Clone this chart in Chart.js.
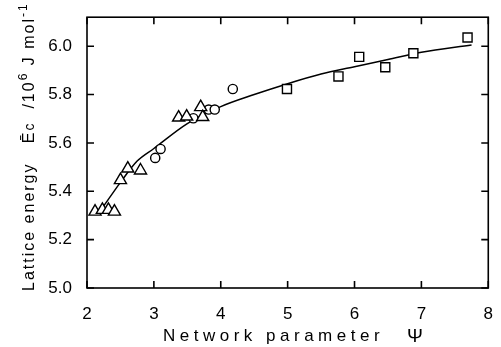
<!DOCTYPE html>
<html>
<head>
<meta charset="utf-8">
<script src="https://cdn.jsdelivr.net/npm/chart.js@4.4.1/dist/chart.umd.min.js"></script>
<style>
html, body { margin: 0; padding: 0; background: #fff; }
#wrap { width: 501px; height: 347px; }
</style>
</head>
<body>
<div id="wrap"><canvas id="myChart"></canvas></div>
<script>
// triangles
var triX = [2.12, 2.23, 2.32, 2.41, 2.50, 2.61, 2.80, 3.37, 3.49, 3.70, 3.73];
var triY = [5.316, 5.323, 5.323, 5.316, 5.446, 5.494, 5.486, 5.705, 5.709, 5.748, 5.707];
// circles
var cirX = [3.02, 3.10, 3.59, 3.82, 3.91, 4.18];
var cirY = [5.538, 5.575, 5.702, 5.738, 5.738, 5.823];
// squares
var sqX = [4.99, 5.76, 6.07, 6.46, 6.88, 7.69];
var sqY = [5.823, 5.875, 5.956, 5.913, 5.971, 6.036];
// fitted curve
var fitX = [2.24, 2.5, 2.75, 3.0, 3.5, 4.0, 4.5, 5.0, 5.5, 6.0, 6.5, 7.0, 7.75];
var fitY = [5.335, 5.437, 5.525, 5.577, 5.68, 5.75, 5.80, 5.845, 5.885, 5.915, 5.945, 5.975, 6.005];

var xTicks = [2, 3, 4, 5, 6, 7, 8];
var yTicks = [5.0, 5.2, 5.4, 5.6, 5.8, 6.0];

function pts(xs, ys) {
    var out = [];
    for (var i = 0; i < xs.length; i++) out.push({x: xs[i], y: ys[i]});
    return out;
}

var FONT = '"Liberation Sans", Arial, sans-serif';

// box round the plot with ticks pointing inwards, plus the axis titles
var framePlugin = {
    id: 'frame',
    afterDraw: function(chart) {
        var ctx = chart.ctx, a = chart.chartArea;
        var xs = chart.scales.x, ys = chart.scales.y;
        var tl = 7;
        ctx.save();
        ctx.strokeStyle = '#000';
        ctx.lineWidth = 1.6;
        ctx.strokeRect(a.left, a.top, a.right - a.left, a.bottom - a.top);
        ctx.beginPath();
        xTicks.forEach(function(v) {
            var px = xs.getPixelForValue(v);
            ctx.moveTo(px, a.bottom); ctx.lineTo(px, a.bottom - tl);
            ctx.moveTo(px, a.top); ctx.lineTo(px, a.top + tl);
        });
        yTicks.forEach(function(v) {
            var py = ys.getPixelForValue(v);
            ctx.moveTo(a.left, py); ctx.lineTo(a.left + tl, py);
            ctx.moveTo(a.right, py); ctx.lineTo(a.right - tl, py);
        });
        ctx.stroke();

        // x title
        ctx.fillStyle = '#000';
        ctx.textAlign = 'left';
        ctx.textBaseline = 'alphabetic';
        ctx.font = '17px ' + FONT;
        ctx.letterSpacing = '4.5px';
        ctx.fillText('Network parameter', 163, 341);
        ctx.letterSpacing = '0px';
        ctx.font = '19px ' + FONT;
        ctx.fillText('\u03A8', 407, 342);

        // y title, rotated, drawn piece by piece for the superscripts
        ctx.translate(34, 0);
        ctx.rotate(-Math.PI / 2);
        var parts = [
            {t: 'Lattice energy   \u0112', size: 16, dy: 0},
            {t: 'c', size: 14, dy: 0},
            {t: '  /10', size: 16, dy: 0},
            {t: '6', size: 12, dy: -7},
            {t: ' J mol', size: 16, dy: 0},
            {t: '-1', size: 12, dy: -7}
        ];
        ctx.letterSpacing = '2px';
        var cx = -291;
        parts.forEach(function(p) {
            ctx.font = p.size + 'px ' + FONT;
            ctx.fillText(p.t, cx, p.dy);
            cx += ctx.measureText(p.t).width;
        });
        ctx.restore();
    }
};

new Chart('myChart', {
    type: 'scatter',
    data: {
        datasets: [{
            label: 'fit',
            type: 'line',
            data: pts(fitX, fitY),
            borderColor: '#000',
            borderWidth: 1.5,
            pointRadius: 0,
            cubicInterpolationMode: 'monotone',
            fill: false,
            order: 2
        }, {
            label: 'triangles',
            data: pts(triX, triY),
            pointStyle: 'triangle',
            pointRadius: 7,
            borderColor: '#000',
            backgroundColor: '#fff',
            borderWidth: 1.4,
            order: 1
        }, {
            label: 'circles',
            data: pts(cirX, cirY),
            pointStyle: 'circle',
            pointRadius: 4.6,
            borderColor: '#000',
            backgroundColor: '#fff',
            borderWidth: 1.4,
            order: 1
        }, {
            label: 'squares',
            data: pts(sqX, sqY),
            pointStyle: 'rect',
            pointRadius: 6.4,
            borderColor: '#000',
            backgroundColor: '#fff',
            borderWidth: 1.4,
            order: 1
        }]
    },
    options: {
        responsive: true,
        maintainAspectRatio: false,
        animation: false,
        layout: { padding: { top: 9, right: 9, left: 0, bottom: 0 } },
        plugins: {
            legend: { display: false },
            tooltip: { enabled: false }
        },
        scales: {
            x: {
                type: 'linear',
                min: 2,
                max: 8,
                grid: { display: false },
                border: { display: false },
                afterBuildTicks: function(s) { s.ticks = xTicks.map(function(v) { return {value: v}; }); },
                afterFit: function(s) { s.height = 59; },
                ticks: {
                    padding: 8,
                    color: '#000',
                    font: { family: FONT, size: 17 },
                    maxRotation: 0
                }
            },
            y: {
                type: 'linear',
                min: 5.0,
                max: 6.12,
                grid: { display: false },
                border: { display: false },
                afterBuildTicks: function(s) { s.ticks = yTicks.map(function(v) { return {value: v}; }); },
                afterFit: function(s) { s.width = 87; },
                ticks: {
                    padding: 7,
                    color: '#000',
                    font: { family: FONT, size: 17 },
                    callback: function(v) { return Number(v).toFixed(1); }
                }
            }
        }
    },
    plugins: [framePlugin]
});
</script>
</body>
</html>
